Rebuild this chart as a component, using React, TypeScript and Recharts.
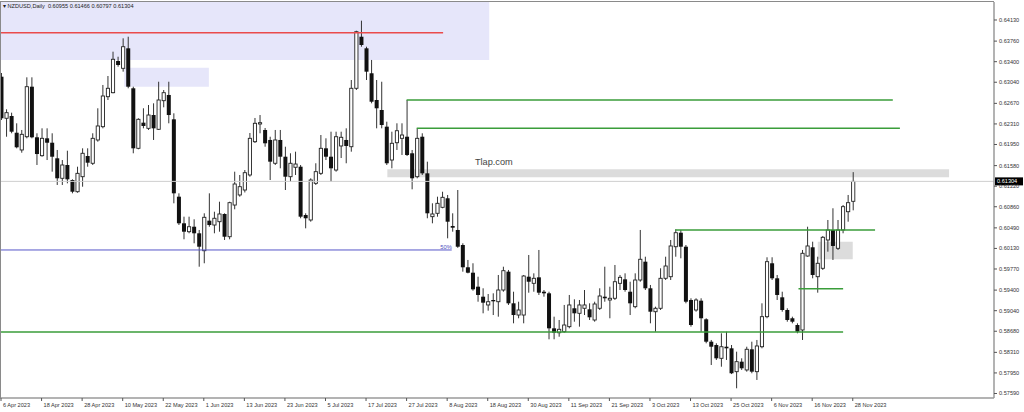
import {
  ComposedChart,
  Bar,
  XAxis,
  YAxis,
  ReferenceArea,
  ReferenceLine,
  ReferenceDot,
} from "recharts";

// date labels every 8 daily bars, starting at bar 0
const dateLabels = [
  "6 Apr 2023", "18 Apr 2023", "28 Apr 2023", "10 May 2023", "22 May 2023",
  "1 Jun 2023", "13 Jun 2023", "23 Jun 2023", "5 Jul 2023", "17 Jul 2023",
  "27 Jul 2023", "8 Aug 2023", "18 Aug 2023", "30 Aug 2023", "11 Sep 2023",
  "21 Sep 2023", "3 Oct 2023", "13 Oct 2023", "25 Oct 2023", "6 Nov 2023",
  "16 Nov 2023", "28 Nov 2023",
];

const priceTicks = [
  0.6413, 0.6376, 0.634, 0.6304, 0.6267, 0.6231, 0.6195, 0.6158, 0.6122, 0.6086,
  0.6049, 0.6013, 0.5977, 0.594, 0.5904, 0.5868, 0.5831, 0.5795, 0.5759,
];

const openPrices = [
  0.63137, 0.62409, 0.62449, 0.62156, 0.61854, 0.62086, 0.62962, 0.62076, 0.61754, 0.62058,
  0.61981, 0.61708, 0.61358, 0.61591, 0.61328, 0.61123, 0.61386, 0.61748, 0.61621, 0.62029,
  0.62262, 0.62787, 0.62857, 0.63412, 0.63284, 0.63634, 0.62934, 0.61883, 0.62332, 0.62233,
  0.62466, 0.62216, 0.62717, 0.62817, 0.62391, 0.61036, 0.6057, 0.60423, 0.6051, 0.60395,
  0.6009, 0.60616, 0.6054, 0.60598, 0.60733, 0.60335, 0.6089, 0.61066, 0.61153, 0.61416,
  0.61999, 0.62309, 0.62204, 0.62029, 0.61621, 0.62029, 0.61736, 0.61386, 0.61551, 0.61561,
  0.60715, 0.60628, 0.6127, 0.61445, 0.61883, 0.61736, 0.61503, 0.61924, 0.62029, 0.61911,
  0.62934, 0.63837, 0.63634, 0.63197, 0.62729, 0.62554, 0.62262, 0.61678, 0.61981, 0.62058,
  0.62086, 0.61796, 0.61386, 0.62086, 0.61445, 0.60686, 0.60745, 0.6085, 0.61008, 0.60523,
  0.60453, 0.6019, 0.598, 0.59705, 0.5946, 0.59285, 0.5914, 0.59227, 0.59197, 0.59402,
  0.59723, 0.59169, 0.58964, 0.58964, 0.59635, 0.59519, 0.59624, 0.59372, 0.59344, 0.58731,
  0.58654, 0.58672, 0.5876, 0.59082, 0.58994, 0.59082, 0.59064, 0.58877, 0.59082, 0.59285,
  0.59227, 0.59257, 0.59519, 0.59589, 0.59372, 0.5911, 0.59577, 0.59898, 0.59432, 0.59022,
  0.59082, 0.59607, 0.59635, 0.6016, 0.60405, 0.6016, 0.59227, 0.59052, 0.59215, 0.58889,
  0.58497, 0.58439, 0.58206, 0.58409, 0.58381, 0.57972, 0.58147, 0.58002, 0.58364, 0.57972,
  0.58409, 0.58935, 0.5987, 0.59607, 0.59274, 0.59052, 0.58907, 0.58789, 0.58702, 0.59997,
  0.6015, 0.59635, 0.59782, 0.60278, 0.60453, 0.60132, 0.60453, 0.60773, 0.60955,
];

const highPrices = [
  0.63202, 0.62566, 0.62507, 0.62321, 0.62204, 0.63126, 0.63126, 0.62146, 0.62233, 0.62233,
  0.62146, 0.61854, 0.61678, 0.61841, 0.6134, 0.61561, 0.61883, 0.61883, 0.62146, 0.62584,
  0.62992, 0.63149, 0.63575, 0.63487, 0.63809, 0.63837, 0.62962, 0.62409, 0.62584, 0.62641,
  0.62671, 0.63049, 0.62904, 0.63049, 0.62496, 0.61095, 0.60686, 0.60686, 0.6064, 0.60453,
  0.60745, 0.61095, 0.60773, 0.60948, 0.60745, 0.60948, 0.61474, 0.61416, 0.61503, 0.62151,
  0.62414, 0.62466, 0.62239, 0.62086, 0.62204, 0.62204, 0.61911, 0.61796, 0.61824, 0.61591,
  0.60745, 0.61358, 0.61621, 0.62116, 0.62058, 0.62174, 0.62174, 0.62174, 0.62233, 0.63079,
  0.63942, 0.64118, 0.63662, 0.6343, 0.63079, 0.63049, 0.62349, 0.62174, 0.62321, 0.62321,
  0.62729, 0.61854, 0.62233, 0.62146, 0.61649, 0.6092, 0.61036, 0.61123, 0.61066, 0.60745,
  0.61153, 0.6022, 0.59928, 0.5987, 0.59635, 0.59432, 0.59332, 0.59344, 0.59665, 0.5981,
  0.59753, 0.59372, 0.59197, 0.59665, 0.60015, 0.59694, 0.60103, 0.59402, 0.59372, 0.58935,
  0.58877, 0.5914, 0.59315, 0.59239, 0.59227, 0.59402, 0.59169, 0.59197, 0.59432, 0.5981,
  0.5946, 0.5984, 0.59665, 0.59694, 0.59547, 0.59694, 0.60453, 0.59985, 0.5949, 0.5911,
  0.59782, 0.59985, 0.60278, 0.60465, 0.60453, 0.6019, 0.59257, 0.59257, 0.59257, 0.58907,
  0.58527, 0.58469, 0.58644, 0.58672, 0.58439, 0.58322, 0.58206, 0.58409, 0.58497, 0.58527,
  0.59169, 0.59975, 0.59975, 0.59665, 0.59372, 0.59082, 0.58935, 0.58819, 0.60103, 0.6051,
  0.60248, 0.59985, 0.60348, 0.60628, 0.60833, 0.60628, 0.6089, 0.61066, 0.61466,
];

const lowPrices = [
  0.62379, 0.62086, 0.62146, 0.61883, 0.61806, 0.62058, 0.62058, 0.61591, 0.61736, 0.61678,
  0.61474, 0.61241, 0.61241, 0.6127, 0.61095, 0.61106, 0.61211, 0.61561, 0.61591, 0.61999,
  0.62233, 0.62729, 0.62846, 0.63312, 0.63225, 0.62934, 0.61796, 0.61866, 0.62233, 0.62204,
  0.62029, 0.62204, 0.62601, 0.62321, 0.6092, 0.6054, 0.6029, 0.60395, 0.6022, 0.5981,
  0.5987, 0.6051, 0.60395, 0.60423, 0.60278, 0.6029, 0.60815, 0.61036, 0.6111, 0.61386,
  0.61976, 0.62146, 0.61911, 0.61328, 0.61591, 0.61533, 0.61153, 0.61298, 0.61416, 0.60658,
  0.60482, 0.60598, 0.61241, 0.61416, 0.61678, 0.61298, 0.61474, 0.61713, 0.61621, 0.61824,
  0.62904, 0.63662, 0.63079, 0.62671, 0.62233, 0.62233, 0.61591, 0.61533, 0.61854, 0.61766,
  0.61748, 0.61165, 0.61358, 0.61416, 0.60658, 0.6057, 0.60686, 0.60833, 0.60307, 0.60423,
  0.6014, 0.59723, 0.59694, 0.5939, 0.59197, 0.58994, 0.5904, 0.58964, 0.58935, 0.59372,
  0.5914, 0.58819, 0.58907, 0.58819, 0.59355, 0.59372, 0.59315, 0.59285, 0.58539, 0.58539,
  0.58584, 0.58654, 0.58731, 0.58847, 0.5876, 0.58964, 0.58877, 0.58847, 0.59052, 0.59197,
  0.58907, 0.59227, 0.59402, 0.59372, 0.58964, 0.59082, 0.59547, 0.59402, 0.58819, 0.58672,
  0.59052, 0.59577, 0.59577, 0.59985, 0.59957, 0.59169, 0.5876, 0.59022, 0.58672, 0.58469,
  0.58089, 0.58177, 0.58059, 0.58177, 0.5793, 0.57681, 0.58002, 0.57972, 0.57944, 0.57827,
  0.58381, 0.58907, 0.59577, 0.59227, 0.59022, 0.58847, 0.58819, 0.58644, 0.58527, 0.59985,
  0.59607, 0.59355, 0.59753, 0.60073, 0.59928, 0.60103, 0.60395, 0.60598, 0.60797,
];

const closePrices = [
  0.62409, 0.62507, 0.62174, 0.61901, 0.62128, 0.62962, 0.62076, 0.61783, 0.62058, 0.61981,
  0.61736, 0.61358, 0.61591, 0.6134, 0.61123, 0.61445, 0.61796, 0.61631, 0.62058, 0.62274,
  0.62799, 0.62934, 0.63442, 0.63342, 0.63662, 0.62962, 0.61883, 0.62391, 0.62274, 0.62466,
  0.62233, 0.62729, 0.62857, 0.62466, 0.61095, 0.6057, 0.60423, 0.6051, 0.60395, 0.6016,
  0.60675, 0.6054, 0.60658, 0.60733, 0.60335, 0.60931, 0.61258, 0.61211, 0.61456, 0.62058,
  0.62321, 0.62332, 0.61971, 0.61649, 0.62029, 0.61736, 0.61386, 0.61621, 0.61608, 0.60686,
  0.60658, 0.61328, 0.61474, 0.61883, 0.61736, 0.61533, 0.62086, 0.62076, 0.61924, 0.62934,
  0.63925, 0.63692, 0.63225, 0.62699, 0.62584, 0.62291, 0.61621, 0.61971, 0.62191, 0.62116,
  0.61766, 0.61358, 0.62058, 0.61445, 0.60745, 0.60733, 0.6092, 0.61025, 0.60598, 0.60493,
  0.6016, 0.598, 0.59705, 0.59414, 0.59315, 0.5918, 0.59197, 0.59204, 0.59402, 0.5974,
  0.59169, 0.58964, 0.59052, 0.59647, 0.59547, 0.59607, 0.59355, 0.59344, 0.58731, 0.58654,
  0.58714, 0.58789, 0.5914, 0.58994, 0.5914, 0.5914, 0.58924, 0.59157, 0.59297, 0.59257,
  0.59257, 0.59547, 0.59624, 0.59402, 0.59169, 0.59577, 0.5994, 0.59432, 0.59022, 0.59082,
  0.59607, 0.59822, 0.60173, 0.60405, 0.6016, 0.59197, 0.58789, 0.59227, 0.58907, 0.58497,
  0.58409, 0.58206, 0.58409, 0.58381, 0.57944, 0.58147, 0.58031, 0.58364, 0.57972, 0.58422,
  0.58935, 0.59898, 0.59607, 0.59315, 0.59052, 0.58877, 0.58847, 0.58672, 0.60045, 0.60173,
  0.59665, 0.5987, 0.60325, 0.60453, 0.60173, 0.60453, 0.60861, 0.60931, 0.61304,
];

const lastPrice = 0.61304;

const candles = openPrices.map((open, i) => ({
  i,
  open,
  high: highPrices[i],
  low: lowPrices[i],
  close: closePrices[i],
}));

const xTicks = dateLabels.map((_, k) => k * 8);

const FONT = '"Liberation Sans", Arial, sans-serif';

function Candle(props: any) {
  const { x, y, width, height, payload } = props;
  if (!payload) return null;
  const { open, high, low, close } = payload;
  const top = Math.min(y, y + height);
  const h = Math.abs(height);
  const cx = x + width / 2;
  const k = high === low ? 0 : h / (high - low);
  const yOf = (v: number) => top + (high - v) * k;
  const bTop = yOf(Math.max(open, close));
  const bBot = yOf(Math.min(open, close));
  const up = close >= open;
  return (
    <g>
      <line x1={cx} x2={cx} y1={top} y2={top + h} stroke="#333" strokeWidth={1} />
      {up ? (
        <rect
          x={cx - 1.6}
          y={bTop}
          width={3.2}
          height={Math.max(bBot - bTop, 0.8)}
          fill="#fff"
          stroke="#222"
          strokeWidth={0.9}
        />
      ) : (
        <rect
          x={cx - 2}
          y={bTop}
          width={4}
          height={Math.max(bBot - bTop, 1)}
          fill="#111"
        />
      )}
    </g>
  );
}

function DateTick(props: any) {
  const { x, y, payload } = props;
  const label = dateLabels[Math.round(payload.value / 8)] ?? "";
  return (
    <text x={x + 2} y={y + 4} fontSize={5.6} fontFamily={FONT} fill="#333" textAnchor="start">
      {label}
    </text>
  );
}

function PriceTick(props: any) {
  const { x, y, payload } = props;
  return (
    <text x={x} y={y + 2} fontSize={5.6} fontFamily={FONT} fill="#333" textAnchor="start">
      {Number(payload.value).toFixed(5)}
    </text>
  );
}

function PriceTag(props: any) {
  const vb = props.viewBox;
  if (!vb) return null;
  const x = vb.x + vb.width;
  const y = vb.y;
  return (
    <g>
      <rect x={x + 1} y={y - 4} width={28} height={8} fill="#000" />
      <text x={x + 3} y={y + 2} fontSize={5.6} fontFamily={FONT} fill="#fff">
        {lastPrice.toFixed(5)}
      </text>
    </g>
  );
}

export default function App() {
  return (
    <div style={{ position: "absolute", left: 0, top: 0, width: 1024, height: 412, background: "#fff" }}>
      <ComposedChart
        width={1024}
        height={412}
        data={candles}
        margin={{ top: 2, right: 0, bottom: 0, left: 0 }}
      >
        <XAxis
          type="number"
          dataKey="i"
          domain={[-0.2, 195.86]}
          allowDataOverflow
          ticks={xTicks}
          interval={0}
          height={14}
          tickSize={3}
          tick={<DateTick />}
          tickLine={{ stroke: "#555" }}
          axisLine={{ stroke: "#9a9a9a", strokeWidth: 1.5 }}
        />
        <YAxis
          orientation="right"
          type="number"
          domain={[0.57511, 0.64445]}
          allowDataOverflow
          ticks={priceTicks}
          interval={0}
          width={30}
          tickSize={3}
          tick={<PriceTick />}
          tickLine={{ stroke: "#555" }}
          axisLine={{ stroke: "#9a9a9a", strokeWidth: 1.5 }}
        />

        {/* zones */}
        <ReferenceArea x1={-0.2} x2={96.3} y1={0.6343} y2={0.64445} fill="#e6e6fa" fillOpacity={1} stroke="none" ifOverflow="visible" />
        <ReferenceArea x1={24.3} x2={41.0} y1={0.62962} y2={0.63295} fill="#e6e6fa" fillOpacity={1} stroke="none" ifOverflow="visible" />
        <ReferenceArea x1={76.2} x2={187} y1={0.61376} y2={0.61516} fill="#dcdcdc" fillOpacity={1} stroke="none" ifOverflow="visible" />
        <ReferenceArea x1={161.1} x2={168.0} y1={0.5994} y2={0.60248} fill="#dcdcdc" fillOpacity={1} stroke="none" ifOverflow="visible" />

        <ReferenceLine y={lastPrice} stroke="#cfcfcf" strokeWidth={1} ifOverflow="visible" label={(p: any) => <PriceTag {...p} />} />

        <Bar
          dataKey={(d: any) => [d.low, d.high]}
          barSize={4}
          isAnimationActive={false}
          shape={(p: any) => <Candle {...p} />}
        />

        {/* levels */}
        <ReferenceLine segment={[{ x: -0.2, y: 0.63907 }, { x: 87.2, y: 0.63907 }]} stroke="#ea4b4b" strokeWidth={1.5} ifOverflow="visible" />
        <ReferenceLine segment={[{ x: 80, y: 0.62729 }, { x: 175.9, y: 0.62729 }]} stroke="#3a9d3a" strokeWidth={1.5} ifOverflow="visible" />
        <ReferenceLine segment={[{ x: 82, y: 0.62233 }, { x: 177.3, y: 0.62233 }]} stroke="#3a9d3a" strokeWidth={1.5} ifOverflow="visible" />
        <ReferenceLine segment={[{ x: 133, y: 0.60453 }, { x: 172.4, y: 0.60453 }]} stroke="#3a9d3a" strokeWidth={1.5} ifOverflow="visible" />
        <ReferenceLine segment={[{ x: 157.3, y: 0.59425 }, { x: 166.1, y: 0.59425 }]} stroke="#3a9d3a" strokeWidth={1.5} ifOverflow="visible" />
        <ReferenceLine segment={[{ x: -0.2, y: 0.58667 }, { x: 166.1, y: 0.58667 }]} stroke="#3a9d3a" strokeWidth={1.5} ifOverflow="visible" />
        <ReferenceLine segment={[{ x: -0.2, y: 0.60103 }, { x: 88.9, y: 0.60103 }]} stroke="#5555c8" strokeWidth={1} ifOverflow="visible" />

        <ReferenceDot x={87.8} y={0.60164} r={0} fill="none" stroke="none" ifOverflow="visible"
          label={{ value: "50%", position: "center", fontSize: 5.8, fill: "#5050c0", fontFamily: FONT }} />
        <ReferenceDot x={97.2} y={0.61643} r={0} fill="none" stroke="none" ifOverflow="visible"
          label={{ value: "Tlap.com", position: "center", fontSize: 9.2, fill: "#444", fontFamily: FONT }} />
      </ComposedChart>

      <div
        style={{
          position: "absolute", left: 0, top: 1, width: 993, height: 396,
          border: "1px solid #8a8a8a", borderRight: "none", borderBottom: "none", pointerEvents: "none",
        }}
      />
      <div
        style={{
          position: "absolute", left: 3, top: 3, fontSize: 5.6, lineHeight: "7px",
          fontFamily: FONT, color: "#222", whiteSpace: "pre",
        }}
      >
        {"\u25BE NZDUSD,Daily  0.60955 0.61466 0.60797 0.61304"}
      </div>
    </div>
  );
}
